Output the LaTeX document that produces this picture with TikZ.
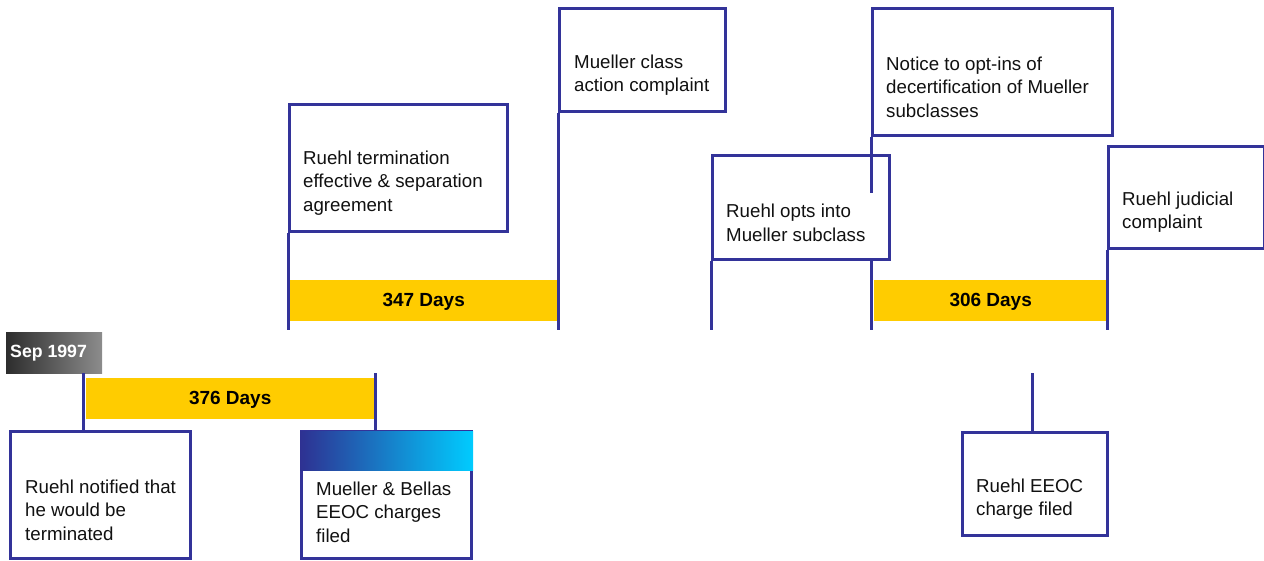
\documentclass[tikz,border=0pt]{standalone}
\usepackage{fontspec}
\setmainfont{Liberation Sans}
\definecolor{edgeblue}{RGB}{51,51,153}
\definecolor{baryellow}{RGB}{255,204,0}
\definecolor{txtblack}{RGB}{17,17,17}
\begin{document}
\begin{tikzpicture}[x=1pt,y=-1pt,
  evbox/.style={draw=edgeblue, line width=2.6pt, fill=white, rectangle, inner sep=0pt, anchor=north west},
  conn/.style={draw=edgeblue, line width=3pt},
  txt/.style={anchor=west, align=left, inner sep=0pt, text=txtblack, font=\fontsize{18.7}{23.5}\selectfont},
  bar/.style={fill=baryellow, rectangle, inner sep=0pt, anchor=north west},
  bartxt/.style={font=\bfseries\fontsize{19}{22}\selectfont, text=black, inner sep=0pt}
]
\useasboundingbox (0,0) rectangle (1264,560);

% date tag
\node[rectangle, inner sep=0pt, anchor=north west, minimum width=96pt, minimum height=41pt,
  left color={rgb,255:red,45;green,45;blue,45}, right color={rgb,255:red,140;green,140;blue,140}] (sep) at (6,332) {};
\node[anchor=west, inner sep=0pt, text=white, font=\bfseries\fontsize{17.7}{20}\selectfont] (septxt) at (10,353) {Sep 1997};

% yellow duration bars
\node[bar, minimum width=288pt, minimum height=41pt] (d376) at (86,378) {};
\node[bartxt] (d376t) at ([yshift=-1.5pt]d376.center) {376 Days};
\node[bar, minimum width=267pt, minimum height=41pt] (d347) at (290,280) {};
\node[bartxt] (d347t) at ([yshift=-1.5pt]d347.center) {347 Days};
\node[bar, minimum width=233pt, minimum height=41pt] (d306) at (874,280) {};
\node[bartxt] (d306t) at ([yshift=-1.5pt]d306.center) {306 Days};

% event boxes
\node[evbox, minimum width=180pt, minimum height=127pt] (notified) at (9,430) {};
\node[txt] (notifiedt) at (25,510) {Ruehl notified that\\he would be\\terminated};

\node[evbox, minimum width=170pt, minimum height=127pt] (bellas) at (300,430) {};
\node[rectangle, inner sep=0pt, anchor=north west, minimum width=173pt, minimum height=39pt,
  left color={rgb,255:red,46;green,49;blue,146}, right color={rgb,255:red,0;green,204;blue,255}] (bellashead) at (300,431) {};
\node[txt] (bellast) at (316,512) {Mueller \& Bellas\\EEOC charges\\filed};

\node[evbox, minimum width=218pt, minimum height=127pt] (termination) at (288,103) {};
\node[txt] (terminationt) at (303,183) {Ruehl termination\\effective \& separation\\agreement};

\node[evbox, minimum width=166pt, minimum height=103pt] (classact) at (558,7) {};
\node[txt] (classactt) at (574,75) {Mueller class\\action complaint};

\node[evbox, minimum width=177pt, minimum height=104pt] (opts) at (711,154) {};
\node[txt] (optst) at (726,223) {Ruehl opts into\\Mueller subclass};

\node[evbox, minimum width=240pt, minimum height=127pt] (notice) at (871,7) {};
\node[txt] (noticet) at (886,87) {Notice to opt-ins of\\decertification of Mueller\\subclasses};

\node[evbox, minimum width=156pt, minimum height=102pt] (judicial) at (1107,145) {};
\node[txt] (judicialt) at (1122,212) {Ruehl judicial\\complaint};

\node[evbox, minimum width=145pt, minimum height=103pt] (eeoc) at (961,431) {};
\node[txt] (eeoct) at (976,499) {Ruehl EEOC\\charge filed};

% free ends of connectors
\coordinate (c376a) at (83,373);
\coordinate (c376b) at (375.5,373);
\coordinate (base288) at (288,330);
\coordinate (base558) at (558,330);
\coordinate (base711) at (711,330);
\coordinate (noticeend) at (871,193);
\coordinate (opts871) at (871,258);
\coordinate (base871) at (871,330);
\coordinate (base1107) at (1107,330);
\coordinate (eeoctop) at (1032,373);

% connectors
\draw[conn] (c376a) -- (notified.north west -| c376a);
\draw[conn] (c376b) -- (bellas.north west -| c376b);
\draw[conn] (termination.south west) -- (base288);
\draw[conn] (classact.south west) -- (base558);
\draw[conn] (opts.south west) -- (base711);
\draw[conn] (notice.south west) -- (noticeend);
\draw[conn] (opts871) -- (base871);
\draw[conn] (judicial.south west) -- (base1107);
\draw[conn] (eeoctop) -- (eeoc.north west -| eeoctop);
\end{tikzpicture}
\end{document}
